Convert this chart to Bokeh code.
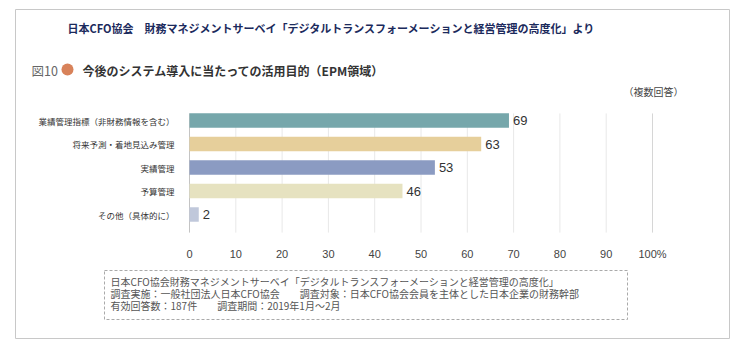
from bokeh.plotting import figure
from bokeh.models import Range1d, FixedTicker, Label, BoxAnnotation, ColumnDataSource
from bokeh.core.properties import value
from bokeh.embed import file_html
from bokeh.resources import INLINE

# ---- data ----
categories = ["業績管理指標（非財務情報を含む）", "将来予測・着地見込み管理", "実績管理", "予算管理", "その他（具体的に）"]
values = [69, 63, 53, 46, 2]
bar_colors = ["#76a7ab", "#e6cf9b", "#8b9bc2", "#e6e2c0", "#c0c8db"]
x_ticks = [0, 10, 20, 30, 40, 50, 60, 70, 80, 90, 100]
x_tick_labels = ["0", "10", "20", "30", "40", "50", "60", "70", "80", "90", "100%"]

title_main = "日本CFO協会　財務マネジメントサーベイ「デジタルトランスフォーメーションと経営管理の高度化」より"
fig_no = "図10"
fig_title = "今後のシステム導入に当たっての活用目的（EPM領域）"
note_right = "（複数回答）"
footnotes = [
    "日本CFO協会財務マネジメントサーベイ「デジタルトランスフォーメーションと経営管理の高度化」",
    "調査実施：一般社団法人日本CFO協会　　調査対象：日本CFO協会会員を主体とした日本企業の財務幹部",
    "有効回答数：187件　　調査期間：2019年1月～2月",
]

JP = "Noto Sans CJK JP"
LAT = "Liberation Sans"

idx = list(range(len(categories)))
src = ColumnDataSource(dict(y=idx, v=values, c=bar_colors, t=[str(v) for v in values]))

W, H = 734, 339
# plot area in canvas pixels: x 0..100 -> 189..652 ; category rows centred from y=120, 23.5px apart
PX_PER_UNIT = (652 - 189) / 100.0
ROW = 23.5
x_start = -189 / PX_PER_UNIT
x_end = 100 + (W - 652) / PX_PER_UNIT
y_top = (0 - 120) / ROW
y_bot = (H - 120) / ROW
y_lo, y_hi = -0.3, 4.77   # extent of the plotting band in category units

p = figure(width=W, height=H,
           x_range=Range1d(x_start, x_end), y_range=Range1d(y_bot, y_top),
           output_backend="svg", toolbar_location=None,
           min_border_left=0, min_border_right=0,
           min_border_top=0, min_border_bottom=0)
p.outline_line_color = None
p.background_fill_color = "white"
p.border_fill_color = "white"
p.xgrid.visible = False
p.ygrid.visible = False

# grid lines limited to the plotting band
grid_colors = ["#c4c4c4"] + ["#e8e8e8"] * (len(x_ticks) - 2) + ["#d6d6d6"]
p.segment(x0=x_ticks, x1=x_ticks, y0=[y_lo] * len(x_ticks), y1=[y_hi] * len(x_ticks),
          line_color=grid_colors, line_width=1)

p.hbar(y="y", left=0, right="v", height=0.62, fill_color="c", line_color=None, source=src)
p.text(x="v", y="y", text="t", source=src, x_offset=4,
       text_baseline="middle", text_align="left",
       text_font=value(LAT), text_font_size="13px", text_color="#333333")

# x axis (drawn at the bottom of the band)
xa = p.xaxis[0]
xa.fixed_location = y_hi
xa.ticker = FixedTicker(ticks=x_ticks)
xa.major_label_overrides = {t: l for t, l in zip(x_ticks, x_tick_labels)}
xa.axis_line_color = None
xa.major_tick_line_color = None
xa.minor_tick_line_color = None
xa.major_label_standoff = 9
xa.major_label_text_font = LAT
xa.major_label_text_font_size = "11px"
xa.major_label_text_color = "#444444"

# y axis (drawn at x = 0)
ya = p.yaxis[0]
ya.fixed_location = 0
ya.ticker = FixedTicker(ticks=idx)
ya.major_label_overrides = {i: c for i, c in zip(idx, categories)}
ya.axis_line_color = None
ya.major_tick_line_color = None
ya.minor_tick_line_color = None
ya.major_label_standoff = 9
ya.major_label_text_font = JP
ya.major_label_text_font_size = "8.5px"
ya.major_label_text_color = "#333333"

C = dict(left_units="canvas", right_units="canvas", top_units="canvas", bottom_units="canvas")

def lab(x, y, text, size, color, bold=False, font=JP, align="left"):
    p.add_layout(Label(x=x, y=y, x_units="canvas", y_units="canvas", text=text,
                       text_font=font, text_font_size=size,
                       text_font_style="bold" if bold else "normal",
                       text_color=color, text_baseline="middle", text_align=align))

lab(67, 27, title_main, "11px", "#1b2a5c", bold=True)
lab(31, 70, fig_no, "12.5px", "#666666")
lab(82, 70, fig_title, "12px", "#333333", bold=True)
lab(683, 91, note_right, "10px", "#444444", align="right")
for i, line in enumerate(footnotes):
    lab(110, 281 + 12 * i, line, "10px", "#555555")

p.add_layout(BoxAnnotation(left=61, right=73, top=63, bottom=75, **C,
                           fill_color="#d8825a", fill_alpha=1, line_color=None,
                           border_radius=6))
p.add_layout(BoxAnnotation(left=104, right=627, top=270, bottom=319, **C,
                           fill_color=None, fill_alpha=0, line_color="#aaaaaa",
                           line_width=1, line_alpha=1, line_dash="3 2"))
p.add_layout(BoxAnnotation(left=15, right=729, top=9, bottom=338, **C,
                           fill_color=None, fill_alpha=0, line_color="#c8c8c8",
                           line_width=1, line_alpha=1))

open("out.html", "w").write(file_html(p, INLINE))
